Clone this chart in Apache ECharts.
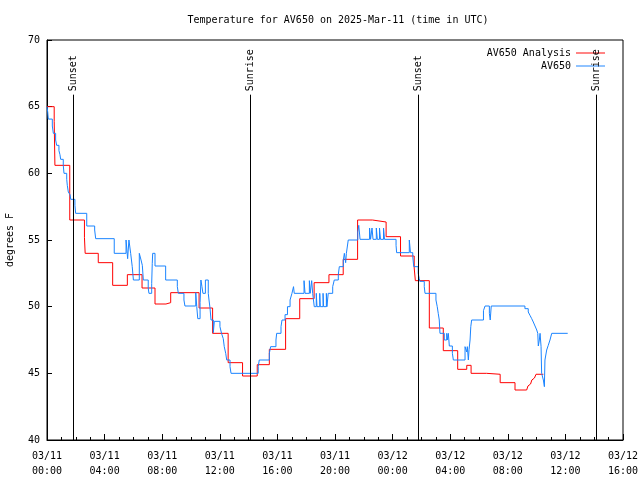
<!DOCTYPE html>
<html>
<head>
<meta charset="utf-8">
<script src="https://cdn.jsdelivr.net/npm/echarts@6/dist/echarts.min.js"></script>
<style>html,body{margin:0;padding:0;background:#fff}#c{width:640px;height:480px}</style>
</head>
<body>
<div id="c"></div>
<script>
// hours since 2025-03-11 00:00 UTC
const redTime = [0,0.50,0.55,1.58,2.60,2.65,3.56,4.56,5.58,6.60,7.50,8.26,8.59,10.56,11.50,12.58,13.58,14.60,15.44,16.57,17.55,18.55,19.58,20.57,21.57,22.60,23.55,24.55,25.50,25.58,26.55,27.52,28.52,29.15,29.45,30.53,31.47,32.50,33.31,33.40,33.49,33.58,33.67,33.76,33.85,33.96,34.47];
const redTemp = [65.0,63.9,60.6,56.5,55.2,54.0,53.3,51.6,52.4,51.4,50.2,50.3,51.05,49.9,48.0,45.8,44.8,45.65,46.8,49.1,50.6,51.8,52.4,53.55,56.5,56.35,55.25,53.8,52.9,51.95,48.4,46.7,45.3,45.6,45.0,44.93,44.3,43.75,43.9,44.05,44.2,44.35,44.5,44.65,44.8,44.93,44.93];

const blueTime = [
0.00,0.05,0.09,0.37,0.44,0.60,0.67,0.83,0.90,0.95,
1.13,1.18,1.37,1.41,1.48,1.60,1.65,1.94,1.99,2.76,
3.31,3.38,4.67,5.49,5.60,5.69,5.81,5.92,6.00,6.41,
6.53,6.62,6.69,7.03,7.08,7.27,7.31,7.34,7.50,8.24,
9.05,9.12,9.51,9.58,10.33,10.40,10.47,10.63,10.69,10.76,
10.83,11.00,11.20,11.25,11.32,11.39,11.55,11.62,12.01,12.12,
12.24,12.31,12.41,12.48,12.71,12.78,14.67,14.74,15.44,15.53,
15.90,15.95,16.25,16.32,16.53,16.70,16.88,17.01,17.12,17.17,
17.85,17.92,18.22,18.28,18.38,18.45,18.56,18.70,18.75,18.94,
18.98,19.17,19.21,19.40,19.44,19.53,19.84,19.95,20.23,20.30,
20.58,20.65,20.74,20.79,20.92,21.58,21.65,21.74,22.40,22.47,
22.57,22.64,22.87,22.94,23.09,23.16,23.37,23.44,24.24,24.28,
25.16,25.24,25.40,25.47,25.78,25.85,25.90,26.20,26.25,27.01,
27.10,27.17,27.24,27.29,27.59,27.76,27.80,27.87,27.94,28.15,
28.22,29.03,29.15,29.19,29.26,29.31,29.38,29.43,29.49,30.31,
30.42,30.72,30.78,30.85,33.19,33.42,33.54,33.66,33.77,33.89,
34.01,34.08,34.12,34.19,34.24,34.31,34.35,34.47,34.54,34.58,
34.70,34.81,34.93,35.05,36.16];
const blueTemp = [
65.0,64.6,64.07,63.55,63.0,62.5,62.1,61.7,61.4,61.05,
60.6,60.0,59.55,59.1,58.6,58.4,58.05,57.6,57.0,56.05,
55.75,55.1,54.0,55.0,53.6,55.0,54.0,53.0,52.0,54.0,
53.5,53.1,52.0,51.4,51.0,51.75,53.25,54.0,53.05,52.0,
51.5,51.0,50.5,50.05,51.05,50.0,49.1,50.3,52.0,51.5,
51.0,52.0,51.0,50.5,49.9,49.0,48.05,48.9,48.5,48.0,
47.6,47.0,46.5,46.0,45.5,45.0,45.5,46.0,46.5,47.0,
47.5,48.0,48.5,49.0,49.4,50.0,50.5,51.0,51.5,51.0,
51.95,51.0,51.95,51.0,51.95,51.0,50.0,51.0,50.0,51.0,
50.0,51.0,50.0,51.0,50.0,51.0,51.5,52.0,52.4,53.0,
53.5,54.0,53.3,54.0,55.0,55.6,56.1,55.05,55.9,55.05,
55.9,55.05,55.9,55.05,55.9,55.05,55.9,55.05,54.6,54.05,
55.0,54.05,53.75,53.0,52.5,52.1,51.9,51.5,51.0,50.5,
50.0,49.5,49.0,48.0,47.5,48.0,47.5,48.0,47.05,46.5,
46.0,47.0,46.6,47.0,46.0,46.8,47.5,48.5,49.0,49.7,
50.05,49.5,49.0,50.05,49.85,49.6,49.35,49.1,48.85,48.55,
48.25,48.0,47.05,47.5,48.0,47.0,45.0,44.5,44.0,46.0,
46.75,47.1,47.5,48.0,48.0];

const sunTimes = [1.83, 14.12, 25.79, 38.13];
const sunLabels = ['Sunset', 'Sunrise', 'Sunset', 'Sunrise'];
const yTicks = [40, 45, 50, 55, 60, 65, 70];
const seriesNames = ['AV650 Analysis', 'AV650'];
const titleText = 'Temperature for AV650 on 2025-Mar-11 (time in UTC)';

const FONT = 'DejaVu Sans Mono';
const chart = echarts.init(document.getElementById('c'), null, {renderer: 'canvas'});

function pairs(t, v) { return t.map((x, i) => [x, v[i]]); }
function fmtX(h) {
  const day = 11 + Math.floor(h / 24);
  const hh = Math.round(h % 24);
  return '03/' + String(day).padStart(2, '0') + '\n' + String(hh).padStart(2, '0') + ':00';
}

const option = {
  animation: false,
  backgroundColor: '#fff',
  title: {
    text: titleText, left: 333, top: 10, textAlign: 'center',
    textStyle: {fontFamily: FONT, fontSize: 10, fontWeight: 'normal', color: '#000'}
  },
  legend: [
    {data: [seriesNames[0]], right: 30, top: 43, align: 'right', orient: 'vertical',
     icon: 'path://M0,0H30V1H0Z', itemWidth: 29, itemHeight: 13,
     textStyle: {fontFamily: FONT, fontSize: 10, color: '#000'}},
    {data: [seriesNames[1]], right: 30, top: 56, align: 'right', orient: 'vertical',
     icon: 'path://M0,0H30V1H0Z', itemWidth: 29, itemHeight: 13,
     textStyle: {fontFamily: FONT, fontSize: 10, color: '#000'}}
  ],
  grid: {left: 47, right: 17, top: 40, bottom: 40, show: true, borderColor: '#000', borderWidth: 1,
         containLabel: false, outerBoundsMode: 'none'},
  xAxis: {
    type: 'value', min: 0, max: 40, interval: 4,
    axisLine: {show: true, lineStyle: {color: '#000'}},
    axisTick: {show: true, inside: true, length: 6, lineStyle: {color: '#000'}},
    minorTick: {show: true, splitNumber: 4, length: 3, lineStyle: {color: '#000'}},
    splitLine: {show: false},
    axisLabel: {formatter: fmtX, fontFamily: FONT, fontSize: 10, color: '#000', lineHeight: 15, margin: 9}
  },
  yAxis: {
    type: 'value', min: yTicks[0], max: yTicks[yTicks.length - 1], interval: 5,
    name: 'degrees F', nameLocation: 'middle', nameGap: 32, nameRotate: 90,
    nameTextStyle: {fontFamily: FONT, fontSize: 10, color: '#000'},
    axisLine: {show: true, lineStyle: {color: '#000'}},
    axisTick: {show: true, inside: true, length: 5, lineStyle: {color: '#000'}},
    splitLine: {show: false},
    axisLabel: {fontFamily: FONT, fontSize: 10, color: '#000', margin: 7}
  },
  series: [
    {
      name: seriesNames[0], type: 'line', step: 'end', showSymbol: false, symbol: 'none',
      color: '#ff0000', lineStyle: {color: '#ff0000', width: 1},
      data: pairs(redTime, redTemp), z: 3
    },
    {
      name: seriesNames[1], type: 'line', step: 'end', showSymbol: false, symbol: 'none',
      color: '#1a84ff', lineStyle: {color: '#1a84ff', width: 1},
      data: pairs(blueTime, blueTemp), z: 4
    },
    {
      name: 'sun', type: 'custom', z: 5, silent: true,
      data: sunTimes.map(t => [t, 40]),
      renderItem: function (params, api) {
        const t = api.value(0);
        const top = api.coord([t, 65.9]);
        const bot = api.coord([t, 40]);
        const lab = api.coord([t, 66.15]);
        const x = Math.round(top[0]) + 0.5;
        return {
          type: 'group',
          children: [
            {type: 'line', shape: {x1: x, y1: top[1], x2: x, y2: bot[1]}, style: {stroke: '#000', lineWidth: 1}},
            {type: 'text', x: x, y: lab[1], rotation: Math.PI / 2,
             style: {text: sunLabels[params.dataIndex], fill: '#000', font: '10px ' + FONT, align: 'left', verticalAlign: 'middle'}}
          ]
        };
      }
    }
  ]
};
chart.setOption(option);
</script>
</body>
</html>
